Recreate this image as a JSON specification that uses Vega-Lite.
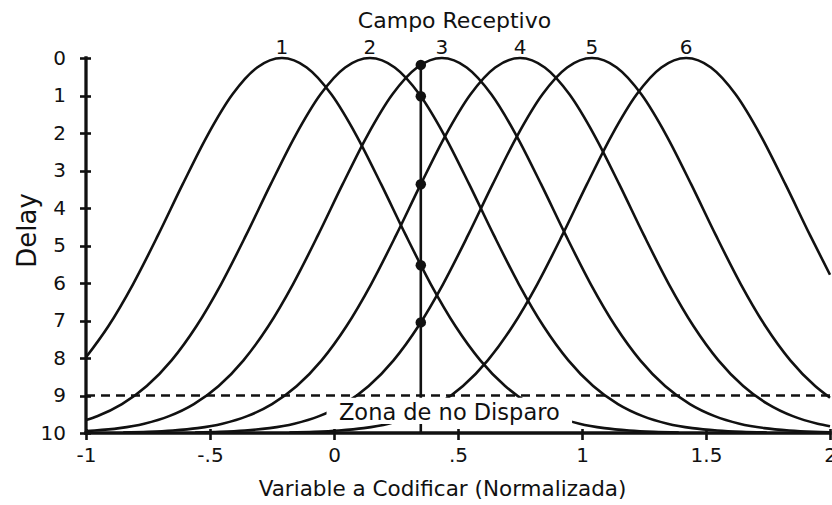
{
  "$schema": "https://vega.github.io/schema/vega-lite/v6.json",
  "width": 744,
  "height": 375,
  "autosize": {"type": "none"},
  "padding": {"left": 86, "top": 58, "right": 2, "bottom": 72},
  "background": "white",
  "config": {
    "view": {"stroke": null},
    "font": "DejaVu Sans",
    "text": {"font": "DejaVu Sans", "color": "#111"},
    "axis": {
      "domain": false, "grid": false, "offset": -4.5,
      "tickSize": 11, "tickWidth": 2.6, "tickColor": "#111",
      "labelFontSize": 20, "labelColor": "#111", "labelFont": "DejaVu Sans",
      "labelOverlap": false, "labelSeparation": 0,
      "titleFont": "DejaVu Sans", "titleFontWeight": "normal", "titleColor": "#111"
    },
    "axisY": {"labelOverlap": false, "labelPadding": 14, "tickCount": 11}
  },
  "datasets": {
    "curves": [
      {"curve": 1, "x": -1, "delay": 7.982}, {"curve": 1, "x": -0.91, "delay": 7.153}, {"curve": 1, "x": -0.81, "delay": 6.027},
      {"curve": 1, "x": -0.71, "delay": 4.732}, {"curve": 1, "x": -0.61, "delay": 3.365}, {"curve": 1, "x": -0.51, "delay": 2.061},
      {"curve": 1, "x": -0.41, "delay": 0.975}, {"curve": 1, "x": -0.31, "delay": 0.253}, {"curve": 1, "x": -0.21, "delay": 0},
      {"curve": 1, "x": -0.11, "delay": 0.253}, {"curve": 1, "x": -0.01, "delay": 0.975}, {"curve": 1, "x": 0.09, "delay": 2.061},
      {"curve": 1, "x": 0.19, "delay": 3.365}, {"curve": 1, "x": 0.29, "delay": 4.732}, {"curve": 1, "x": 0.39, "delay": 6.027},
      {"curve": 1, "x": 0.49, "delay": 7.153}, {"curve": 1, "x": 0.59, "delay": 8.062}, {"curve": 1, "x": 0.69, "delay": 8.747},
      {"curve": 1, "x": 0.79, "delay": 9.23}, {"curve": 1, "x": 0.89, "delay": 9.551}, {"curve": 1, "x": 0.99, "delay": 9.751},
      {"curve": 1, "x": 1.09, "delay": 9.869}, {"curve": 1, "x": 1.19, "delay": 9.934}, {"curve": 1, "x": 1.29, "delay": 9.969},
      {"curve": 1, "x": 1.39, "delay": 9.986},

      {"curve": 2, "x": -1, "delay": 9.653}, {"curve": 2, "x": -0.955, "delay": 9.551}, {"curve": 2, "x": -0.855, "delay": 9.23},
      {"curve": 2, "x": -0.755, "delay": 8.747}, {"curve": 2, "x": -0.655, "delay": 8.062}, {"curve": 2, "x": -0.555, "delay": 7.153},
      {"curve": 2, "x": -0.455, "delay": 6.027}, {"curve": 2, "x": -0.355, "delay": 4.732}, {"curve": 2, "x": -0.255, "delay": 3.365},
      {"curve": 2, "x": -0.155, "delay": 2.061}, {"curve": 2, "x": -0.055, "delay": 0.975}, {"curve": 2, "x": 0.045, "delay": 0.253},
      {"curve": 2, "x": 0.145, "delay": 0}, {"curve": 2, "x": 0.245, "delay": 0.253}, {"curve": 2, "x": 0.345, "delay": 0.975},
      {"curve": 2, "x": 0.445, "delay": 2.061}, {"curve": 2, "x": 0.545, "delay": 3.365}, {"curve": 2, "x": 0.645, "delay": 4.732},
      {"curve": 2, "x": 0.745, "delay": 6.027}, {"curve": 2, "x": 0.845, "delay": 7.153}, {"curve": 2, "x": 0.945, "delay": 8.062},
      {"curve": 2, "x": 1.045, "delay": 8.747}, {"curve": 2, "x": 1.145, "delay": 9.23}, {"curve": 2, "x": 1.245, "delay": 9.551},
      {"curve": 2, "x": 1.345, "delay": 9.751}, {"curve": 2, "x": 1.445, "delay": 9.869}, {"curve": 2, "x": 1.545, "delay": 9.934},
      {"curve": 2, "x": 1.645, "delay": 9.969}, {"curve": 2, "x": 1.745, "delay": 9.986},

      {"curve": 3, "x": -1, "delay": 9.949}, {"curve": 3, "x": -0.965, "delay": 9.934}, {"curve": 3, "x": -0.865, "delay": 9.869},
      {"curve": 3, "x": -0.765, "delay": 9.751}, {"curve": 3, "x": -0.665, "delay": 9.551}, {"curve": 3, "x": -0.565, "delay": 9.23},
      {"curve": 3, "x": -0.465, "delay": 8.747}, {"curve": 3, "x": -0.365, "delay": 8.062}, {"curve": 3, "x": -0.265, "delay": 7.153},
      {"curve": 3, "x": -0.165, "delay": 6.027}, {"curve": 3, "x": -0.065, "delay": 4.732}, {"curve": 3, "x": 0.035, "delay": 3.365},
      {"curve": 3, "x": 0.135, "delay": 2.061}, {"curve": 3, "x": 0.235, "delay": 0.975}, {"curve": 3, "x": 0.335, "delay": 0.253},
      {"curve": 3, "x": 0.435, "delay": 0}, {"curve": 3, "x": 0.535, "delay": 0.253}, {"curve": 3, "x": 0.635, "delay": 0.975},
      {"curve": 3, "x": 0.735, "delay": 2.061}, {"curve": 3, "x": 0.835, "delay": 3.365}, {"curve": 3, "x": 0.935, "delay": 4.732},
      {"curve": 3, "x": 1.035, "delay": 6.027}, {"curve": 3, "x": 1.135, "delay": 7.153}, {"curve": 3, "x": 1.235, "delay": 8.062},
      {"curve": 3, "x": 1.335, "delay": 8.747}, {"curve": 3, "x": 1.435, "delay": 9.23}, {"curve": 3, "x": 1.535, "delay": 9.551},
      {"curve": 3, "x": 1.635, "delay": 9.751}, {"curve": 3, "x": 1.735, "delay": 9.869}, {"curve": 3, "x": 1.835, "delay": 9.934},
      {"curve": 3, "x": 1.935, "delay": 9.969}, {"curve": 3, "x": 2, "delay": 9.981},

      {"curve": 4, "x": -0.85, "delay": 9.986}, {"curve": 4, "x": -0.75, "delay": 9.969}, {"curve": 4, "x": -0.65, "delay": 9.934},
      {"curve": 4, "x": -0.55, "delay": 9.869}, {"curve": 4, "x": -0.45, "delay": 9.751}, {"curve": 4, "x": -0.35, "delay": 9.551},
      {"curve": 4, "x": -0.25, "delay": 9.23}, {"curve": 4, "x": -0.15, "delay": 8.747}, {"curve": 4, "x": -0.05, "delay": 8.062},
      {"curve": 4, "x": 0.05, "delay": 7.153}, {"curve": 4, "x": 0.15, "delay": 6.027}, {"curve": 4, "x": 0.25, "delay": 4.732},
      {"curve": 4, "x": 0.35, "delay": 3.365}, {"curve": 4, "x": 0.45, "delay": 2.061}, {"curve": 4, "x": 0.55, "delay": 0.975},
      {"curve": 4, "x": 0.65, "delay": 0.253}, {"curve": 4, "x": 0.75, "delay": 0}, {"curve": 4, "x": 0.85, "delay": 0.253},
      {"curve": 4, "x": 0.95, "delay": 0.975}, {"curve": 4, "x": 1.05, "delay": 2.061}, {"curve": 4, "x": 1.15, "delay": 3.365},
      {"curve": 4, "x": 1.25, "delay": 4.732}, {"curve": 4, "x": 1.35, "delay": 6.027}, {"curve": 4, "x": 1.45, "delay": 7.153},
      {"curve": 4, "x": 1.55, "delay": 8.062}, {"curve": 4, "x": 1.65, "delay": 8.747}, {"curve": 4, "x": 1.75, "delay": 9.23},
      {"curve": 4, "x": 1.85, "delay": 9.551}, {"curve": 4, "x": 1.95, "delay": 9.751}, {"curve": 4, "x": 2, "delay": 9.818},

      {"curve": 5, "x": -0.56, "delay": 9.986}, {"curve": 5, "x": -0.46, "delay": 9.969}, {"curve": 5, "x": -0.36, "delay": 9.934},
      {"curve": 5, "x": -0.26, "delay": 9.869}, {"curve": 5, "x": -0.16, "delay": 9.751}, {"curve": 5, "x": -0.06, "delay": 9.551},
      {"curve": 5, "x": 0.04, "delay": 9.23}, {"curve": 5, "x": 0.14, "delay": 8.747}, {"curve": 5, "x": 0.24, "delay": 8.062},
      {"curve": 5, "x": 0.34, "delay": 7.153}, {"curve": 5, "x": 0.44, "delay": 6.027}, {"curve": 5, "x": 0.54, "delay": 4.732},
      {"curve": 5, "x": 0.64, "delay": 3.365}, {"curve": 5, "x": 0.74, "delay": 2.061}, {"curve": 5, "x": 0.84, "delay": 0.975},
      {"curve": 5, "x": 0.94, "delay": 0.253}, {"curve": 5, "x": 1.04, "delay": 0}, {"curve": 5, "x": 1.14, "delay": 0.253},
      {"curve": 5, "x": 1.24, "delay": 0.975}, {"curve": 5, "x": 1.34, "delay": 2.061}, {"curve": 5, "x": 1.44, "delay": 3.365},
      {"curve": 5, "x": 1.54, "delay": 4.732}, {"curve": 5, "x": 1.64, "delay": 6.027}, {"curve": 5, "x": 1.74, "delay": 7.153},
      {"curve": 5, "x": 1.84, "delay": 8.062}, {"curve": 5, "x": 1.94, "delay": 8.747}, {"curve": 5, "x": 2, "delay": 9.059},

      {"curve": 6, "x": -0.18, "delay": 9.986}, {"curve": 6, "x": -0.08, "delay": 9.969}, {"curve": 6, "x": 0.02, "delay": 9.934},
      {"curve": 6, "x": 0.12, "delay": 9.869}, {"curve": 6, "x": 0.22, "delay": 9.751}, {"curve": 6, "x": 0.32, "delay": 9.551},
      {"curve": 6, "x": 0.42, "delay": 9.23}, {"curve": 6, "x": 0.52, "delay": 8.747}, {"curve": 6, "x": 0.62, "delay": 8.062},
      {"curve": 6, "x": 0.72, "delay": 7.153}, {"curve": 6, "x": 0.82, "delay": 6.027}, {"curve": 6, "x": 0.92, "delay": 4.732},
      {"curve": 6, "x": 1.02, "delay": 3.365}, {"curve": 6, "x": 1.12, "delay": 2.061}, {"curve": 6, "x": 1.22, "delay": 0.975},
      {"curve": 6, "x": 1.32, "delay": 0.253}, {"curve": 6, "x": 1.42, "delay": 0}, {"curve": 6, "x": 1.52, "delay": 0.253},
      {"curve": 6, "x": 1.62, "delay": 0.975}, {"curve": 6, "x": 1.72, "delay": 2.061}, {"curve": 6, "x": 1.82, "delay": 3.365},
      {"curve": 6, "x": 1.92, "delay": 4.732}, {"curve": 6, "x": 2, "delay": 5.779}
    ],
    "spikes": [
      {"curve": 3, "x": 0.35, "delay": 0.184},
      {"curve": 2, "x": 0.35, "delay": 1.021},
      {"curve": 4, "x": 0.35, "delay": 3.365},
      {"curve": 1, "x": 0.35, "delay": 5.525},
      {"curve": 5, "x": 0.35, "delay": 7.05}
    ],
    "peaks": [
      {"curve": "1", "center": -0.21},
      {"curve": "2", "center": 0.145},
      {"curve": "3", "center": 0.435},
      {"curve": "4", "center": 0.75},
      {"curve": "5", "center": 1.04},
      {"curve": "6", "center": 1.42}
    ]
  },
  "layer": [
    {
      "data": {"name": "curves"},
      "mark": {"type": "line", "interpolate": "monotone", "color": "#111", "strokeWidth": 2.6},
      "encoding": {
        "x": {
          "field": "x", "type": "quantitative",
          "scale": {"domain": [-1, 2], "nice": false, "zero": false},
          "axis": {
            "title": "Variable a Codificar (Normalizada)",
            "values": [-1, -0.5, 0, 0.5, 1, 1.5, 2],
            "labelExpr": "datum.value == 0 ? '0' : (datum.value < 0 ? '-' : '') + replace(toString(abs(datum.value)), '0.', '.')",
            "labelPadding": 6, "labelFlush": false,
            "titleFontSize": 21.5,
            "titleX": 356, "titleY": 67, "titleBaseline": "alphabetic", "titleAlign": "center"
          }
        },
        "y": {
          "field": "delay", "type": "quantitative",
          "scale": {"domain": [0, 10], "reverse": true, "nice": false, "zero": false},
          "axis": {
            "title": "Delay",
            "values": [0, 1, 2, 3, 4, 5, 6, 7, 8, 9, 10],
            "labelOverlap": false,
            "titleFontSize": 26,
            "titleX": -55, "titleY": 172, "titleBaseline": "alphabetic", "titleAlign": "center", "titleAngle": 270
          }
        },
        "detail": {"field": "curve"}
      }
    },
    {
      "data": {"values": [{}]},
      "mark": {"type": "rule", "color": "#111", "strokeWidth": 2.6},
      "encoding": {
        "x": {"datum": 0.35, "type": "quantitative"},
        "y": {"datum": 0.184, "type": "quantitative"},
        "y2": {"datum": 10}
      }
    },
    {
      "data": {"values": [{}]},
      "mark": {"type": "rule", "color": "#111", "strokeWidth": 2.4, "strokeDash": [9, 6]},
      "encoding": {
        "x": {"datum": -1, "type": "quantitative"},
        "x2": {"datum": 2},
        "y": {"datum": 9, "type": "quantitative"}
      }
    },
    {
      "data": {"values": [{}]},
      "mark": {"type": "rect", "color": "white", "opacity": 1},
      "encoding": {
        "x": {"datum": -0.03, "type": "quantitative"},
        "x2": {"datum": 0.96},
        "y": {"datum": 9.06, "type": "quantitative"},
        "y2": {"datum": 9.76}
      }
    },
    {
      "data": {"values": [{}]},
      "mark": {"type": "rule", "color": "#111", "strokeWidth": 3.3, "strokeCap": "square"},
      "encoding": {
        "x": {"datum": -1, "type": "quantitative"},
        "y": {"datum": 0, "type": "quantitative"},
        "y2": {"datum": 10}
      }
    },
    {
      "data": {"values": [{}]},
      "mark": {"type": "rule", "color": "#111", "strokeWidth": 3.3, "strokeCap": "square"},
      "encoding": {
        "x": {"datum": -1, "type": "quantitative"},
        "x2": {"datum": 2},
        "y": {"datum": 10, "type": "quantitative"}
      }
    },
    {
      "data": {"values": [{}]},
      "mark": {"type": "text", "text": "Zona de no Disparo", "fontSize": 22.5, "align": "center", "baseline": "alphabetic"},
      "encoding": {
        "x": {"datum": 0.465, "type": "quantitative"},
        "y": {"datum": 9.645, "type": "quantitative"}
      }
    },
    {
      "data": {"name": "spikes"},
      "mark": {"type": "point", "filled": true, "color": "#111", "size": 110, "opacity": 1},
      "encoding": {
        "x": {"field": "x", "type": "quantitative"},
        "y": {"field": "delay", "type": "quantitative"}
      }
    },
    {
      "data": {"name": "peaks"},
      "mark": {"type": "text", "fontSize": 20, "align": "center", "baseline": "alphabetic", "dy": -4},
      "encoding": {
        "x": {"field": "center", "type": "quantitative"},
        "y": {"datum": 0, "type": "quantitative"},
        "text": {"field": "curve"}
      }
    },
    {
      "data": {"values": [{}]},
      "mark": {"type": "text", "text": "Campo Receptivo", "fontSize": 22, "align": "center", "baseline": "alphabetic", "dy": -30},
      "encoding": {
        "x": {"datum": 0.486, "type": "quantitative"},
        "y": {"datum": 0, "type": "quantitative"}
      }
    }
  ]
}
